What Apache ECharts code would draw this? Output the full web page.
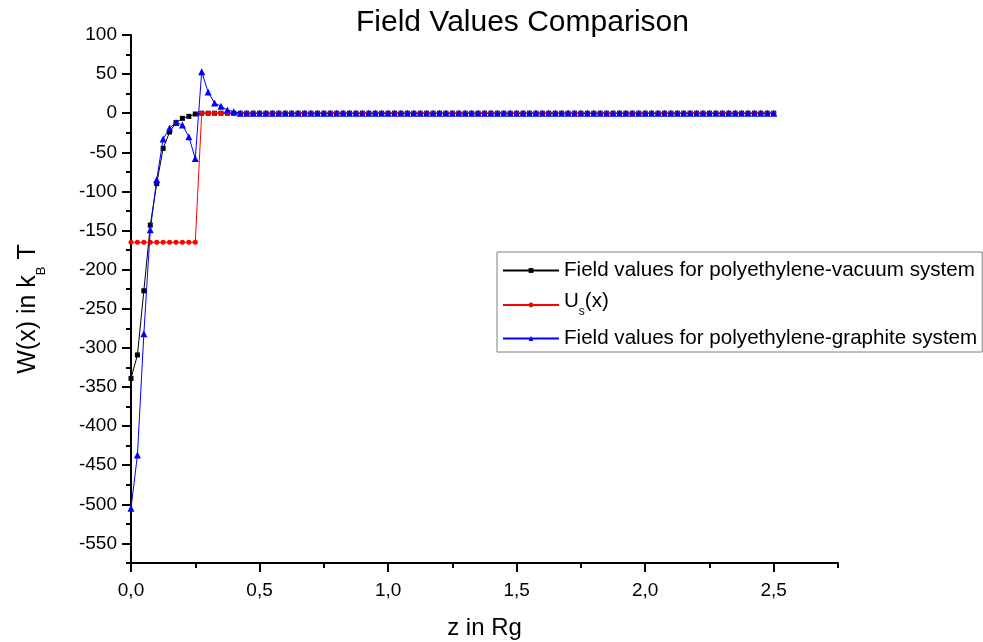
<!DOCTYPE html>
<html>
<head>
<meta charset="utf-8">
<script src="https://cdn.jsdelivr.net/npm/echarts@6/dist/echarts.min.js"></script>
<style>
  html, body { margin: 0; padding: 0; background: #fff; }
  #chart { width: 983px; height: 642px; }
</style>
</head>
<body>
<div id="chart"></div>
<script>
// Distance from the surface, in units of Rg
const zValues = [
  0, 0.025, 0.05, 0.075, 0.1, 0.125, 0.15, 0.175, 0.2, 0.225,
  0.25, 0.275, 0.3, 0.325, 0.35, 0.375, 0.4, 0.425, 0.45, 0.475,
  0.5, 0.525, 0.55, 0.575, 0.6, 0.625, 0.65, 0.675, 0.7, 0.725,
  0.75, 0.775, 0.8, 0.825, 0.85, 0.875, 0.9, 0.925, 0.95, 0.975,
  1.0, 1.025, 1.05, 1.075, 1.1, 1.125, 1.15, 1.175, 1.2, 1.225,
  1.25, 1.275, 1.3, 1.325, 1.35, 1.375, 1.4, 1.425, 1.45, 1.475,
  1.5, 1.525, 1.55, 1.575, 1.6, 1.625, 1.65, 1.675, 1.7, 1.725,
  1.75, 1.775, 1.8, 1.825, 1.85, 1.875, 1.9, 1.925, 1.95, 1.975,
  2.0, 2.025, 2.05, 2.075, 2.1, 2.125, 2.15, 2.175, 2.2, 2.225,
  2.25, 2.275, 2.3, 2.325, 2.35, 2.375, 2.4, 2.425, 2.45, 2.475,
  2.5
];

// Field values, polyethylene-vacuum system (kBT)
const vacuumField = [
  -339, -309, -227, -143, -90, -45, -24, -12, -6.5, -4,
  -1, 0, 0, 0, 0, 0, 0, 0, 0, 0,
  0, 0, 0, 0, 0, 0, 0, 0, 0, 0,
  0, 0, 0, 0, 0, 0, 0, 0, 0, 0,
  0, 0, 0, 0, 0, 0, 0, 0, 0, 0,
  0, 0, 0, 0, 0, 0, 0, 0, 0, 0,
  0, 0, 0, 0, 0, 0, 0, 0, 0, 0,
  0, 0, 0, 0, 0, 0, 0, 0, 0, 0,
  0, 0, 0, 0, 0, 0, 0, 0, 0, 0,
  0, 0, 0, 0, 0, 0, 0, 0, 0, 0,
  0
];

// Surface potential Us(x) (kBT)
const surfacePotential = [
  -165, -165, -165, -165, -165, -165, -165, -165, -165, -165,
  -165, 0, 0, 0, 0, 0, 0, 0, 0, 0,
  0, 0, 0, 0, 0, 0, 0, 0, 0, 0,
  0, 0, 0, 0, 0, 0, 0, 0, 0, 0,
  0, 0, 0, 0, 0, 0, 0, 0, 0, 0,
  0, 0, 0, 0, 0, 0, 0, 0, 0, 0,
  0, 0, 0, 0, 0, 0, 0, 0, 0, 0,
  0, 0, 0, 0, 0, 0, 0, 0, 0, 0,
  0, 0, 0, 0, 0, 0, 0, 0, 0, 0,
  0, 0, 0, 0, 0, 0, 0, 0, 0, 0,
  0
];

// Field values, polyethylene-graphite system (kBT)
const graphiteField = [
  -505, -437, -282, -149, -85, -33, -19, -12, -15, -30,
  -58, 53, 27, 13, 9, 4, 2, 0, 0, 0,
  0, 0, 0, 0, 0, 0, 0, 0, 0, 0,
  0, 0, 0, 0, 0, 0, 0, 0, 0, 0,
  0, 0, 0, 0, 0, 0, 0, 0, 0, 0,
  0, 0, 0, 0, 0, 0, 0, 0, 0, 0,
  0, 0, 0, 0, 0, 0, 0, 0, 0, 0,
  0, 0, 0, 0, 0, 0, 0, 0, 0, 0,
  0, 0, 0, 0, 0, 0, 0, 0, 0, 0,
  0, 0, 0, 0, 0, 0, 0, 0, 0, 0,
  0
];

const seriesNames = [
  'Field values for polyethylene-vacuum system',
  'U_s(x)',
  'Field values for polyethylene-graphite system'
];

// Tick labels (decimal comma)
const xTickLabels = { '0': '0,0', '0.5': '0,5', '1': '1,0', '1.5': '1,5', '2': '2,0', '2.5': '2,5' };

const FONT = 'Liberation Sans, Arial, sans-serif';
const pairs = (ys) => zValues.map((z, i) => [z, ys[i]]);

// Plot frame geometry
const plotLeft = 131, plotTop = 35, plotWidth = 707, plotHeight = 528;
const yMin = -575, yMax = 100, xMax = 2.75;
const pxPerY = plotHeight / (yMax - yMin);

const chart = echarts.init(document.getElementById('chart'), null, { renderer: 'canvas' });

const hiddenX = { show: false, min: 0, max: 1 };
const hiddenY = { show: false, min: 0, max: 1 };

chart.setOption({
  animation: false,
  backgroundColor: '#fff',
  title: {
    text: 'Field Values Comparison',
    left: 351,
    top: 3,
    textStyle: { fontFamily: FONT, fontSize: 30, fontWeight: 'normal', color: '#000' }
  },
  grid: [
    // main frame: axis lines and minor ticks
    { left: plotLeft, top: plotTop, width: plotWidth, height: plotHeight, outerBoundsMode: 'none', containLabel: false },
    // y major ticks and labels (-550 .. 100)
    { left: plotLeft, top: plotTop, width: plotWidth, height: (100 - (-550)) * pxPerY, outerBoundsMode: 'none', containLabel: false },
    // x major ticks and labels (0 .. 2.5)
    { left: plotLeft, top: plotTop, width: plotWidth * 2.5 / xMax, height: plotHeight, outerBoundsMode: 'none', containLabel: false }
  ],
  xAxis: [
    {
      gridIndex: 0, type: 'value', min: 0, max: xMax, interval: 0.25,
      axisLine: { show: true, onZero: false, lineStyle: { color: '#000', width: 2 } },
      axisTick: { show: true, inside: false, length: 5, lineStyle: { color: '#000', width: 2 } },
      axisLabel: { show: false },
      splitLine: { show: false },
      name: 'z in Rg', nameLocation: 'middle', nameGap: 53,
      nameTextStyle: { fontFamily: FONT, fontSize: 24, color: '#000' }
    },
    Object.assign({ gridIndex: 1 }, hiddenX),
    {
      gridIndex: 2, type: 'value', min: 0, max: 2.5, interval: 0.5,
      axisLine: { show: false, onZero: false },
      axisTick: { show: true, inside: false, length: 9, lineStyle: { color: '#000', width: 2 } },
      axisLabel: {
        show: true, margin: 18, fontFamily: FONT, fontSize: 19, color: '#000',
        formatter: (v) => xTickLabels[String(v)] || ''
      },
      splitLine: { show: false }
    }
  ],
  yAxis: [
    {
      gridIndex: 0, type: 'value', min: yMin, max: yMax, interval: 25,
      axisLine: { show: true, onZero: false, lineStyle: { color: '#000', width: 2 } },
      axisTick: { show: true, inside: false, length: 5, lineStyle: { color: '#000', width: 2 } },
      axisLabel: { show: false },
      splitLine: { show: false },
      name: '{a|W(x) in k}{s|B}{a| T}', nameLocation: 'middle', nameGap: 90,
      nameTextStyle: {
        fontFamily: FONT, color: '#000',
        padding: [0, 20, 0, 0],
        rich: {
          a: { fontFamily: FONT, fontSize: 25, lineHeight: 25, verticalAlign: 'top', color: '#000' },
          s: { fontFamily: FONT, fontSize: 13, lineHeight: 13, verticalAlign: 'top', padding: [19, 0, 0, 0], color: '#000' }
        }
      }
    },
    {
      gridIndex: 1, type: 'value', min: -550, max: 100, interval: 50,
      axisLine: { show: false, onZero: false },
      axisTick: { show: true, inside: false, length: 9, lineStyle: { color: '#000', width: 2 } },
      axisLabel: { show: true, margin: 14, fontFamily: FONT, fontSize: 19, color: '#000' },
      splitLine: { show: false }
    },
    Object.assign({ gridIndex: 2 }, hiddenY)
  ],
  legend: {
    orient: 'vertical',
    left: 497, top: 252,
    padding: [8, 5, 3, 5],
    itemGap: 10,
    itemWidth: 56, itemHeight: 6,
    itemTextGap: 5,
    backgroundColor: '#fff',
    borderColor: '#808080', borderWidth: 1,
    data: seriesNames,
    formatter: (name) => name === 'U_s(x)' ? '{u|U}{s|s}{u|(x)}' : name,
    textStyle: {
      fontFamily: FONT, fontSize: 20.6, color: '#000',
      rich: {
        u: { fontFamily: FONT, fontSize: 20.6, lineHeight: 28, verticalAlign: 'top', color: '#000' },
        s: { fontFamily: FONT, fontSize: 12, lineHeight: 12, verticalAlign: 'top', padding: [15, 0, 0, 0], color: '#000' }
      }
    }
  },
  series: [
    {
      name: seriesNames[0], type: 'line', xAxisIndex: 0, yAxisIndex: 0,
      data: pairs(vacuumField),
      symbol: 'rect', symbolSize: 5, showAllSymbol: true,
      lineStyle: { color: '#000', width: 1 },
      itemStyle: { color: '#000' },
      z: 2
    },
    {
      name: seriesNames[1], type: 'line', xAxisIndex: 0, yAxisIndex: 0,
      data: pairs(surfacePotential),
      symbol: 'circle', symbolSize: 5, showAllSymbol: true,
      lineStyle: { color: '#ff0000', width: 1 },
      itemStyle: { color: '#ff0000' },
      z: 3
    },
    {
      name: seriesNames[2], type: 'line', xAxisIndex: 0, yAxisIndex: 0,
      data: pairs(graphiteField),
      symbol: 'triangle', symbolSize: 7, showAllSymbol: true,
      lineStyle: { color: '#0000ff', width: 1 },
      itemStyle: { color: '#0000ff' },
      z: 4
    }
  ]
});
</script>
</body>
</html>
